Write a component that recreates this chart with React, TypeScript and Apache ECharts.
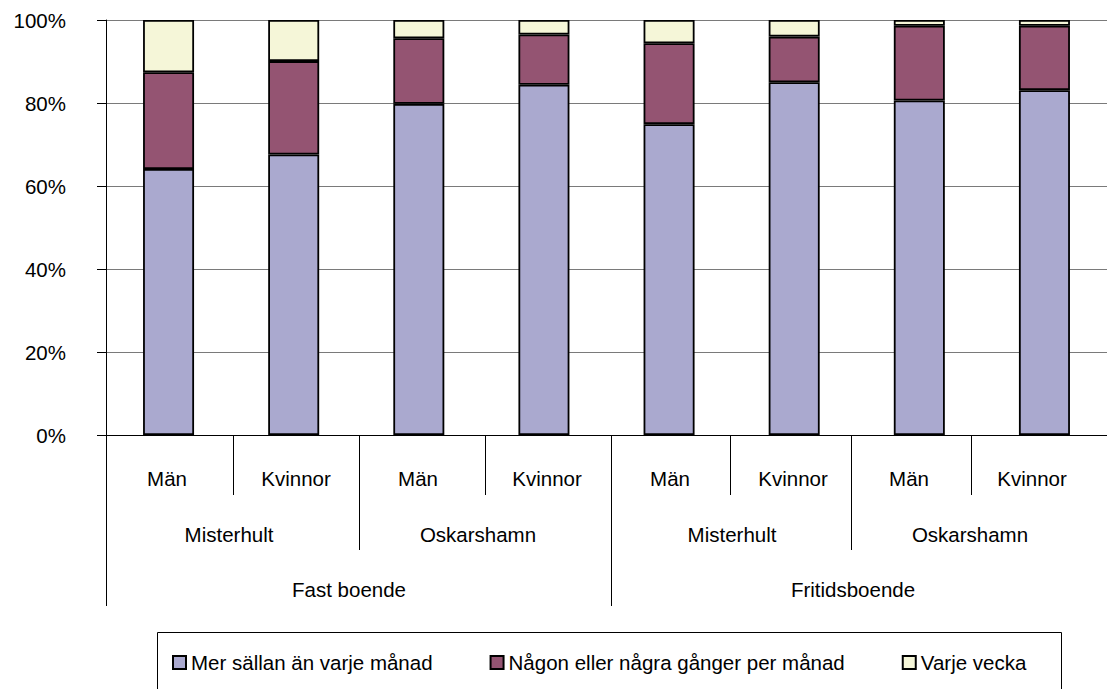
import React, { useEffect, useRef } from "react";
import * as echarts from "echarts";

// ---------- data ----------
const categories = [
  "Fast boende / Misterhult / Män",
  "Fast boende / Misterhult / Kvinnor",
  "Fast boende / Oskarshamn / Män",
  "Fast boende / Oskarshamn / Kvinnor",
  "Fritidsboende / Misterhult / Män",
  "Fritidsboende / Misterhult / Kvinnor",
  "Fritidsboende / Oskarshamn / Män",
  "Fritidsboende / Oskarshamn / Kvinnor",
];
const genderLabels = ["Män", "Kvinnor", "Män", "Kvinnor", "Män", "Kvinnor", "Män", "Kvinnor"];
const placeLabels = ["Misterhult", "Oskarshamn", "Misterhult", "Oskarshamn"];
const housingLabels = ["Fast boende", "Fritidsboende"];
const seriesNames = [
  "Mer sällan än varje månad",
  "Någon eller några gånger per månad",
  "Varje vecka",
];
const merSallan = [64.1, 67.6, 79.8, 84.4, 74.9, 85.0, 80.6, 83.1];
const nagonGang = [23.3, 22.5, 15.8, 12.1, 19.5, 11.0, 18.0, 15.5];
const varjeVecka = [12.6, 9.9, 4.4, 3.5, 5.6, 4.0, 1.4, 1.4];

// ---------- layout (pixel positions of the hierarchical label block) ----------
const genderX = [167, 296, 418, 547, 670, 793, 909, 1032];
const placeX = [229, 478, 732, 970];
const housingX = [349, 853];
const shortSeps = [233.5, 485.5, 730.5, 971.5];
const midSeps = [359.5, 851.5];
const longSeps = [106.5, 611.5];
const ROW1_Y = 478;
const ROW2_Y = 534;
const ROW3_Y = 589;
const AXIS_Y = 435;

const COLORS = ["#AAA9CF", "#945472", "#F5F6D8"];
const FONT = '"Liberation Sans", Arial, sans-serif';
const FS = 20.5;

export default function App() {
  const ref = useRef<HTMLDivElement>(null);

  useEffect(() => {
    if (!ref.current) return;
    const chart = echarts.init(ref.current, null, { renderer: "svg" });

    const txt = (text: string, x: number, y: number) => ({
      type: "text",
      x,
      y,
      silent: true,
      style: {
        text,
        fill: "#000",
        fontSize: FS,
        fontFamily: FONT,
        align: "center",
        verticalAlign: "middle",
      },
    });
    const vline = (x: number, y2: number) => ({
      type: "line",
      silent: true,
      shape: { x1: x, y1: AXIS_Y, x2: x, y2 },
      style: { stroke: "#000", lineWidth: 1 },
    });

    const graphic: any[] = [
      ...genderLabels.map((t, i) => txt(t, genderX[i], ROW1_Y)),
      ...placeLabels.map((t, i) => txt(t, placeX[i], ROW2_Y)),
      ...housingLabels.map((t, i) => txt(t, housingX[i], ROW3_Y)),
      ...shortSeps.map((x) => vline(x, 495)),
      ...midSeps.map((x) => vline(x, 550)),
      ...longSeps.map((x) => vline(x, 606)),
      {
        type: "rect",
        silent: true,
        shape: { x: 157.5, y: 632.5, width: 904, height: 70 },
        style: { fill: "none", stroke: "#000", lineWidth: 1 },
      },
    ];

    const vals = [merSallan, nagonGang, varjeVecka];

    chart.setOption({
      animation: false,
      backgroundColor: "#fff",
      textStyle: { fontFamily: FONT },
      grid: { left: 106, top: 20, width: 1010, height: 415, containLabel: false },
      xAxis: {
        type: "category",
        data: categories,
        axisLine: { show: true, lineStyle: { color: "#000", width: 1 } },
        axisTick: { show: false },
        axisLabel: { show: false },
        splitLine: { show: false },
      },
      yAxis: {
        type: "value",
        min: 0,
        max: 100,
        interval: 20,
        axisLine: { show: true, lineStyle: { color: "#000", width: 1 } },
        axisTick: { show: true, length: 9, lineStyle: { color: "#000" } },
        axisLabel: {
          formatter: "{value}%",
          color: "#000",
          fontSize: FS,
          fontFamily: FONT,
          margin: 40,
        },
        splitLine: { show: true, lineStyle: { color: "#7a7a7a", width: 1.2 } },
      },
      legend: {
        left: 172,
        top: 652,
        padding: 0,
        icon: "rect",
        itemWidth: 13,
        itemHeight: 13,
        itemGap: 57,
        data: seriesNames,
        textStyle: { color: "#000", fontSize: FS, fontFamily: FONT },
      },
      series: seriesNames.map((name, i) => ({
        name,
        type: "bar",
        stack: "total",
        barWidth: 51,
        data: vals[i],
        itemStyle: { color: COLORS[i], borderColor: "#000", borderWidth: 1.8 },
      })),
      graphic,
    });

    return () => chart.dispose();
  }, []);

  return (
    <div
      ref={ref}
      style={{ position: "fixed", left: 0, top: 0, width: 1107, height: 689, background: "#fff" }}
    />
  );
}
